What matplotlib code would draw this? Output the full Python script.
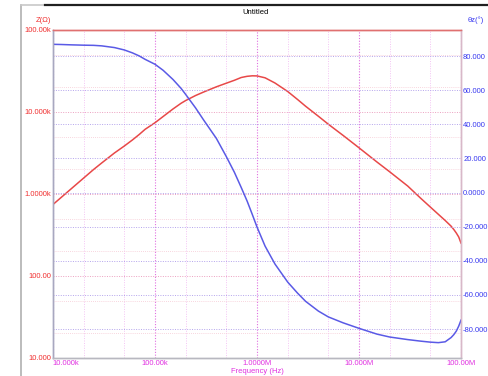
import matplotlib
matplotlib.use("Agg")
import matplotlib.pyplot as plt
import matplotlib.transforms as mtransforms
from matplotlib.lines import Line2D
from matplotlib.ticker import FixedLocator, FixedFormatter, LogLocator, NullFormatter

plt.rcParams['font.family'] = ['Liberation Sans', 'DejaVu Sans']

# --- data ---
freq_hz = [10e3, 12e3, 15e3, 20e3, 25e3, 30e3, 40e3, 50e3, 60e3, 70e3, 80e3,
           100e3, 120e3, 150e3, 180e3, 200e3, 250e3, 300e3, 400e3, 500e3,
           600e3, 700e3, 800e3, 900e3, 1e6, 1.2e6, 1.5e6, 2e6, 2.5e6, 3e6,
           4e6, 5e6, 7e6, 10e6, 15e6, 20e6, 30e6, 40e6, 50e6, 60e6, 70e6,
           80e6, 85e6, 90e6, 95e6, 100e6]
z_ohm = [745, 906, 1151, 1567, 1990, 2388, 3162, 3846, 4557, 5318, 6150,
         7400, 8800, 10880, 12770, 13800, 15890, 17530, 20290, 22450,
         24360, 26340, 27240, 27620, 27540, 26120, 22580, 17780, 14200, 11740,
         8870, 7100, 5170, 3660, 2455, 1865, 1252, 894, 694, 565, 475,
         405, 369, 334, 299, 252]
phase_deg = [86.9, 86.8, 86.6, 86.4, 86.3, 86.0, 85.0, 83.6, 81.9, 80.1, 78.1,
             75.2, 71.7, 66.3, 61.1, 57.5, 49.6, 42.5, 31.7, 21.1,
             11.9, 3.0, -5.0, -12.9, -20.2, -31.4, -41.9, -52.5, -59.0, -63.8,
             -69.5, -72.9, -76.4, -79.6, -83.0, -84.7, -86.2, -87.1, -87.7, -88.0, -87.5,
             -85.0, -83.3, -81.2, -78.3, -74.8]

x_ticks = [1e4, 1e5, 1e6, 1e7, 1e8]
x_labels = ['10.000k', '100.00k', '1.0000M', '10.000M', '100.00M']
z_ticks = [10, 100, 1e3, 1e4, 1e5]
z_labels = ['10.000', '100.00', '1.0000k', '10.000k', '100.00k']
ph_ticks = [80, 60, 40, 20, 0, -20, -40, -60, -80]
ph_labels = ['80.000', '60.000', '40.000', '20.000', '0.0000',
             '-20.000', '-40.000', '-60.000', '-80.000']

RED = '#e84848'
BLUE = '#5a5ae6'
MAG = '#e030e0'
W, H = 488, 376

fig = plt.figure(figsize=(W / 100, H / 100), dpi=100)
ax = fig.add_axes([53 / W, 1 - 358 / H, (461 - 53) / W, (358 - 30) / H])
ax2 = ax.twinx()

# impedance (left, log)
ax.set_xscale('log')
ax.set_yscale('log')
ax.set_xlim(1e4, 1e8)
ax.set_ylim(10, 1e5)
ax.plot(freq_hz, z_ohm, color=RED, lw=1.1)

ax.xaxis.set_major_locator(FixedLocator(x_ticks))
ax.xaxis.set_major_formatter(FixedFormatter(x_labels))
ax.xaxis.set_minor_locator(LogLocator(base=10, subs=(2, 5)))
ax.xaxis.set_minor_formatter(NullFormatter())
ax.yaxis.set_major_locator(FixedLocator(z_ticks))
ax.yaxis.set_major_formatter(FixedFormatter(z_labels))
ax.yaxis.set_minor_locator(LogLocator(base=10, subs=(2, 5)))
ax.yaxis.set_minor_formatter(NullFormatter())

ax.grid(True, axis='x', which='major', color='#e070e0', ls=(0, (1, 1.5)), lw=0.8)
ax.grid(True, axis='x', which='minor', color='#f4c4f4', ls=(0, (1, 1.5)), lw=0.7)
ax.grid(True, axis='y', which='major', color='#eca0c0', ls=(0, (1, 1.5)), lw=0.7)
ax.grid(True, axis='y', which='minor', color='#f6c8d4', ls=(0, (1, 1.5)), lw=0.6)

ax.tick_params(axis='both', which='both', length=0)
ax.tick_params(axis='x', pad=1.5, labelsize=5.5, labelcolor=MAG)
ax.tick_params(axis='y', pad=1, labelsize=5.5, labelcolor='#f03030')
ax.set_xlabel('Frequency (Hz)', fontsize=5.5, color=MAG, labelpad=0.5)

# first frequency label sits a little to the right of its tick, as in the original
first_lbl = ax.get_xticklabels()[0]
first_lbl.set_horizontalalignment('left')
first_lbl.set_transform(first_lbl.get_transform() +
                        mtransforms.ScaledTranslation(-1 / 100, 0, fig.dpi_scale_trans))

# phase (right, linear)
ax2.set_ylim(-97, 95.3)
ax2.plot(freq_hz, phase_deg, color=BLUE, lw=1.1)
ax2.yaxis.set_major_locator(FixedLocator(ph_ticks))
ax2.yaxis.set_major_formatter(FixedFormatter(ph_labels))
ax2.grid(True, axis='y', color='#b4a4ec', ls=(0, (1, 1.5)), lw=0.7)
ax2.tick_params(axis='y', length=0, pad=1.5, labelsize=5.5, labelcolor='#3838f0')

for a in (ax, ax2):
    a.spines['top'].set_color('#e07070')
    a.spines['right'].set_color('#d8b8c8')
    a.spines['left'].set_color('#a8a8c0')
    a.spines['bottom'].set_color('#b8b8c0')
    for s in a.spines.values():
        s.set_linewidth(1.0)

# titles and axis names
fig.text(256 / W, 1 - 13 / H, 'Untitled', fontsize=5.5, color='black', ha='center', va='center')
fig.text(43 / W, 1 - 20 / H, 'Z(Ω)', fontsize=5.5, color='#f03030', ha='center', va='center')
fig.text(476 / W, 1 - 20 / H, 'θz(°)', fontsize=5.5, color='#3838f0', ha='center', va='center')

# window frame
fig.add_artist(Line2D([21 / W, 21 / W], [0, 1 - 5 / H], transform=fig.transFigure, color='#b0b0b0', lw=1.2))
fig.add_artist(Line2D([21 / W, 45 / W], [1 - 5 / H, 1 - 5 / H], transform=fig.transFigure, color='#c8c8c8', lw=1.2))
fig.add_artist(Line2D([45 / W, 1], [1 - 5 / H, 1 - 5 / H], transform=fig.transFigure, color='#202020', lw=1.6))

fig.savefig('out.png', dpi=100)
